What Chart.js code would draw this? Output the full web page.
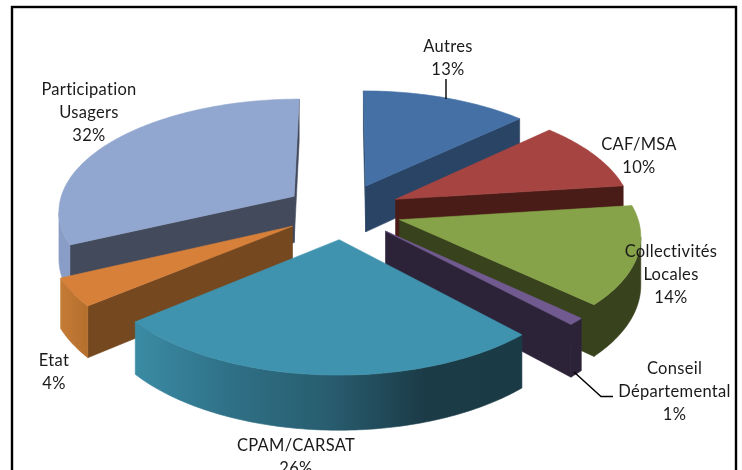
<!DOCTYPE html>
<html><head><meta charset="utf-8">
<style>html,body{margin:0;padding:0;background:#fff;overflow:hidden}#box{width:742px;height:470px;position:relative}</style>
<script src="https://cdn.jsdelivr.net/npm/chart.js@4"></script>
</head><body><div id="box"><canvas id="c" width="742" height="470"></canvas></div>
<script>
const categories = ["Autres","CAF/MSA","Collectivités Locales","Conseil Départemental","CPAM/CARSAT","Etat","Participation Usagers"];
const shares = [13,10,14,1,26,4,32];
const topColors = ["#4470a6","#a64441","#87a34a","#715a90","#3f93ae","#d6803a","#92a7cf"];
const faceColors = ["#2a4465","#4a1c18","#38421c","#2d2339","#1c3d49","#754820","#434a5c"];
const wallColors = [["#2a4465","#2a4465"],["#4a1c18","#4a1c18"],["#38421c","#38421c"],["#2d2339","#2d2339"],["#3a8ba4","#2f7086","#285d6f","#1b3b47","#1a3a46"],["#c47b35","#b56f2d"],["#8a9dc6","#7f92ba"]];
const labelAnchors = [[448,47],[639,145],[671,252],[674.5,369],[296,446],[54,361],[89,90]];
const leaderLines = [[[446,79],[446,99]],[[574,372],[601,396.5],[613,396.5]]];
const view = {cx:343, cy:211, ax:236.5, ay:112, persp:0.1185, height:47};

function project(X,Y){const w=1-view.persp*Y;return {x:view.cx+view.ax*X/w,y:view.cy+view.ay*Y/w,d:view.height/w};}
function slicePoints(arc){
  const a0=arc.startAngle+Math.PI/2,a1=arc.endAngle+Math.PI/2,m=(a0+a1)/2;
  const e=arc.options.offset/arc.outerRadius;
  const ox=e*Math.sin(m),oy=-e*Math.cos(m);
  const rim=[];const n=Math.max(2,Math.ceil((a1-a0)/(Math.PI/180)));
  for(let i=0;i<=n;i++){const t=a0+(a1-a0)*i/n;rim.push(project(ox+Math.sin(t),oy-Math.cos(t)));}
  return {tip:project(ox,oy),rim};
}
function band(ctx,pts,fill){
  ctx.beginPath();
  pts.forEach((p,k)=>k?ctx.lineTo(p.x,p.y):ctx.moveTo(p.x,p.y));
  [...pts].reverse().forEach(p=>ctx.lineTo(p.x,p.y+p.d));
  ctx.closePath();
  ctx.fillStyle=fill;ctx.strokeStyle=fill;ctx.lineWidth=0.6;ctx.fill();ctx.stroke();
}
const pie3d={id:'pie3d',
  beforeDraw(chart){const c=chart.ctx;c.save();c.fillStyle='#fff';c.fillRect(0,0,742,470);c.strokeStyle='#000';c.lineWidth=2.4;c.strokeRect(12,7,724,490);c.restore();},
  beforeDatasetsDraw(chart){
    const ctx=chart.ctx,arcs=chart.getDatasetMeta(0).data;
    const items=arcs.map((arc,i)=>({i,...slicePoints(arc)})).sort((p,q)=>p.tip.y-q.tip.y);
    ctx.save();ctx.lineJoin='round';
    for(const s of items){
      const {tip,rim,i}=s;
      const first=rim[0],last=rim[rim.length-1];
      const minX=Math.min(...rim.map(p=>p.x)),maxX=Math.max(...rim.map(p=>p.x));
      const g=ctx.createLinearGradient(minX,0,maxX,0);
      wallColors[i].forEach((col,k,a)=>g.addColorStop(k/(a.length-1),col));
      if(first.x<tip.x)band(ctx,[tip,first],faceColors[i]);
      if(tip.x<last.x)band(ctx,[last,tip],faceColors[i]);
      let run=[];
      for(let k=0;k<rim.length-1;k++){
        if(rim[k+1].x<rim[k].x){if(!run.length)run.push(rim[k]);run.push(rim[k+1]);}
        else if(run.length){band(ctx,run,g);run=[];}
      }
      if(run.length)band(ctx,run,g);
      ctx.beginPath();ctx.moveTo(tip.x,tip.y);rim.forEach(p=>ctx.lineTo(p.x,p.y));ctx.closePath();
      ctx.fillStyle=topColors[i];ctx.strokeStyle=topColors[i];ctx.lineWidth=0.6;ctx.fill();ctx.stroke();
    }
    ctx.restore();
    return false;
  },
  afterDraw(chart){
    const ctx=chart.ctx;ctx.save();
    ctx.strokeStyle='#000';ctx.lineWidth=1.4;
    leaderLines.forEach(l=>{ctx.beginPath();l.forEach((p,k)=>k?ctx.lineTo(p[0],p[1]):ctx.moveTo(p[0],p[1]));ctx.stroke();});
    ctx.font='16.5px Lato';ctx.letterSpacing='0.3px';ctx.fillStyle='#1a1a1a';ctx.textAlign='center';ctx.textBaseline='middle';
    categories.forEach((name,i)=>{
      const lines=[...name.split(' '),shares[i]+'%'];
      lines.forEach((t,k)=>ctx.fillText(t,labelAnchors[i][0],labelAnchors[i][1]+k*23));
    });
    ctx.restore();
  }
};
new Chart(document.getElementById('c'),{type:'pie',
  data:{labels:categories,datasets:[{data:shares,backgroundColor:topColors,offset:52,borderWidth:0}]},
  options:{responsive:false,animation:false,rotation:0,layout:{padding:0},events:[],
    plugins:{legend:{display:false},tooltip:{enabled:false},title:{display:false}}},
  plugins:[pie3d]});
</script></body></html>
